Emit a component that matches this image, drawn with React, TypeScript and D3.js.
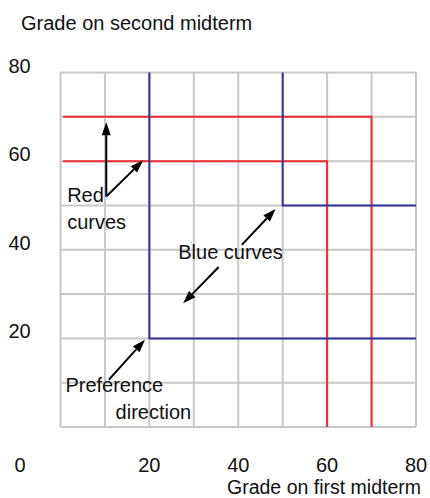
import * as d3 from "d3";

// grid ticks (both axes, 0..80 by 10)
const gridValues = [0, 10, 20, 30, 40, 50, 60, 70, 80];
const xTickLabels = [20, 40, 60, 80];
const yTickLabels = [20, 40, 60, 80];

// indifference curves, [x, y] in grade units
const blueCurves: [number, number][][] = [
  [[20, 80], [20, 20], [80, 20]],
  [[50, 80], [50, 50], [80, 50]],
];
const redCurves: [number, number][][] = [
  [[0.6, 60], [60, 60], [60, 0]],
  [[0.6, 70], [70, 70], [70, 0]],
];

// annotation arrows: from -> tip, in grade units
const arrows: { from: [number, number]; to: [number, number] }[] = [
  { from: [10.3, 52], to: [10.3, 68.8] },
  { from: [10.3, 52], to: [18.6, 60.2] },
  { from: [40.8, 41.1], to: [48.4, 49.2] },
  { from: [35.6, 36.1], to: [27.6, 27.9] },
  { from: [10.9, 10.7], to: [19.0, 19.7] },
];

// annotation texts, anchored at left/baseline, in grade units
const notes: { text: string; at: [number, number] }[] = [
  { text: "Red", at: [1.5, 50.8] },
  { text: "curves", at: [1.5, 44.6] },
  { text: "Blue curves", at: [26.5, 37.8] },
  { text: "Preference", at: [1.1, 7.8] },
  { text: "direction", at: [12.4, 1.8] },
];

export default function App() {
  const width = 430;
  const height = 498;
  const x = d3.scaleLinear().domain([0, 80]).range([60.5, 416]);
  const y = d3.scaleLinear().domain([0, 80]).range([427, 72.5]);
  const line = d3
    .line<[number, number]>()
    .x((d) => x(d[0]))
    .y((d) => y(d[1]));
  const font = "'Liberation Sans', Arial, sans-serif";

  const head = (from: [number, number], to: [number, number]) => {
    const x1 = x(from[0]);
    const y1 = y(from[1]);
    const x2 = x(to[0]);
    const y2 = y(to[1]);
    const a = Math.atan2(y2 - y1, x2 - x1);
    const len = 13;
    const half = 4.5;
    const bx = x2 - len * Math.cos(a);
    const by = y2 - len * Math.sin(a);
    const px = -Math.sin(a) * half;
    const py = Math.cos(a) * half;
    return {
      shaft: { x1, y1, x2: bx, y2: by },
      tri: `${x2},${y2} ${bx + px},${by + py} ${bx - px},${by - py}`,
    };
  };

  return (
    <svg
      width={width}
      height={height}
      viewBox={`0 0 ${width} ${height}`}
      style={{ position: "absolute", left: 0, top: 0, background: "#fff" }}
      fontFamily={font}
    >
      <text x={21} y={30} fontSize={20} fill="#111">
        Grade on second midterm
      </text>

      {gridValues.map((v) => (
        <g key={`g${v}`}>
          <line x1={x(v)} x2={x(v)} y1={y(0)} y2={y(80)} stroke="#c8c8c8" strokeWidth={2} />
          <line x1={x(0)} x2={x(80)} y1={y(v)} y2={y(v)} stroke="#c8c8c8" strokeWidth={2} />
        </g>
      ))}

      {redCurves.map((c, i) => (
        <path key={`r${i}`} d={line(c) ?? ""} fill="none" stroke="#ee2a35" strokeWidth={2} />
      ))}
      {blueCurves.map((c, i) => (
        <path key={`b${i}`} d={line(c) ?? ""} fill="none" stroke="#333399" strokeWidth={2} />
      ))}

      {arrows.map((a, i) => {
        const h = head(a.from, a.to);
        return (
          <g key={`a${i}`}>
            <line {...h.shaft} stroke="#000" strokeWidth={2} />
            <polygon points={h.tri} fill="#000" />
          </g>
        );
      })}

      {notes.map((n) => (
        <text key={n.text} x={x(n.at[0])} y={y(n.at[1])} fontSize={20} fill="#111">
          {n.text}
        </text>
      ))}

      {yTickLabels.map((v) => (
        <text key={`y${v}`} x={19.5} y={y(v)} fontSize={20} textAnchor="middle" fill="#111">
          {v}
        </text>
      ))}
      <text x={20} y={472} fontSize={20} textAnchor="middle" fill="#111">
        0
      </text>
      {xTickLabels.map((v) => (
        <text key={`x${v}`} x={x(v)} y={472} fontSize={20} textAnchor="middle" fill="#111">
          {v}
        </text>
      ))}
      <text x={421} y={493.8} fontSize={19.5} textAnchor="end" fill="#111">
        Grade on first midterm
      </text>
    </svg>
  );
}
